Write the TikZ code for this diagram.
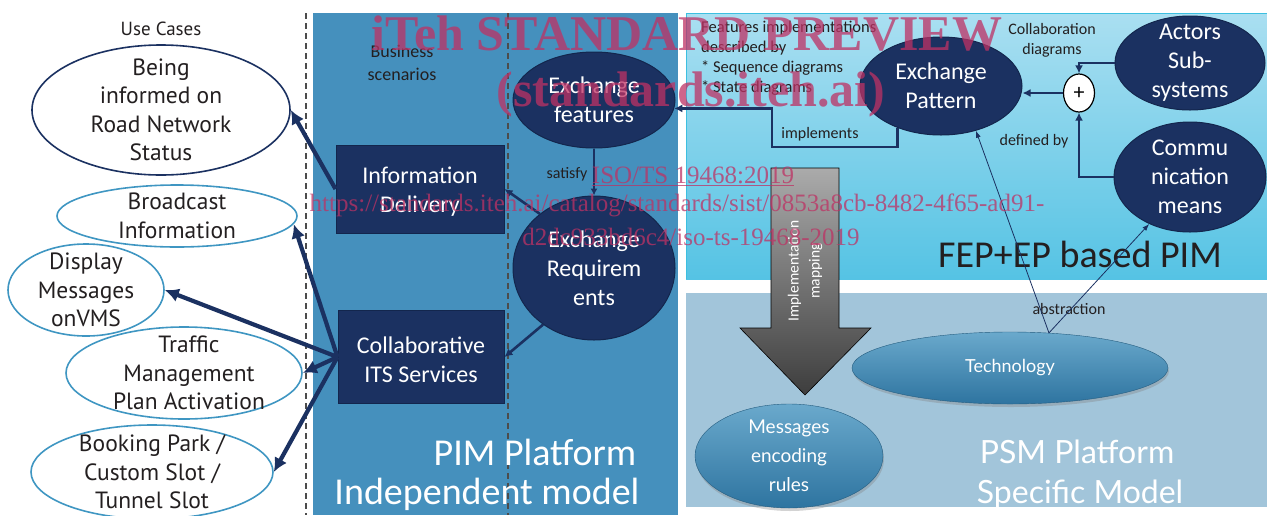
\documentclass[tikz,border=0pt]{standalone}
\usepackage{fontspec}
\setmainfont{Carlito}
\newfontfamily\myriad{PT Sans}
\newfontfamily\gill{Lato}
\newfontfamily\wmfont{Liberation Serif}
\usetikzlibrary{shapes.geometric,arrows.meta,shadows}

\definecolor{navy}{HTML}{1B3161}
\definecolor{navyline}{HTML}{13264D}
\definecolor{pimblue}{HTML}{4590BD}
\definecolor{ucblue}{HTML}{3F96C2}
\definecolor{fepTop}{HTML}{AADFF1}
\definecolor{fepBot}{HTML}{55C3E4}
\definecolor{fepEdge}{HTML}{3CBFE0}
\definecolor{psm}{HTML}{A2C5DA}
\definecolor{techTop}{HTML}{6AA9CC}
\definecolor{techBot}{HTML}{2E74A0}
\definecolor{ink}{HTML}{231F20}
\definecolor{wmcol}{RGB}{190,50,100}

\tikzset{
  uc/.style={ellipse, draw=ucblue, line width=1.6pt, inner sep=0pt},
  uctext/.style={align=center, text=ink, font=\myriad\fontsize{23.5}{28.5}\selectfont, inner sep=0pt},
  darkell/.style={ellipse, fill=navy, draw=navyline, line width=1pt, inner sep=0pt},
  darktext/.style={align=center, text=white, font=\fontsize{24}{29}\selectfont, inner sep=0pt},
  darkbox/.style={rectangle, fill=navy, draw=navyline, line width=1pt},
  note/.style={align=center, text=ink, font=\fontsize{16}{20}\selectfont, inner sep=0pt},
  fat/.style={draw=navy, line width=4.2pt, -{Latex[length=14pt,width=14pt]}},
  link/.style={draw=navy, line width=2.6pt, -{Latex[length=8pt,width=8pt]}},
  hair/.style={draw=navy, line width=0.8pt, -{Latex[length=7pt,width=5pt]}},
  sep/.style={draw=black!70, line width=1.1pt, dash pattern=on 6pt off 4pt},
  techell/.style={ellipse, inner sep=0pt, top color=techTop, bottom color=techBot,
    draw=techBot!80!black, line width=0.4pt,
    drop shadow={opacity=0.35, shadow xshift=1pt, shadow yshift=-3pt}},
  techtext/.style={align=center, text=white, font=\gill\fontsize{19}{29}\selectfont, inner sep=0pt},
  title/.style={text=white, inner sep=0pt, font=\fontsize{38}{42}\selectfont},
  wmark/.style={text=wmcol, text opacity=0.75, inner sep=0pt},
}

\begin{document}
\begin{tikzpicture}[x=1pt, y=-1pt]
\useasboundingbox (0,0) rectangle (1267,515);

% ---- panels ----
\fill[pimblue] (313,13) rectangle (678,515);
\shade[top color=fepTop, bottom color=fepBot] (686,13) rectangle (1267,279);
\draw[fepEdge, line width=0.8pt] (686,279) -- (686,13) -- (1267,13);
\fill[psm] (686,293) rectangle (1267,507);
\draw[sep] (306,13) -- (306,515);
\draw[sep] (508,13) -- (508,515);

% ---- use cases ----
\node[note, font=\myriad\fontsize{19}{22}\selectfont] (uctitle) at (161,29) {Use Cases};
\node[uc, draw=navy, minimum width=258pt, minimum height=130pt,
  label={[uctext, name=uc1t]center:Being\\informed on\\Road Network\\Status}] (uc1) at (161,110) {};
\node[uc, minimum width=240pt, minimum height=62pt,
  label={[uctext, name=uc2t]center:Broadcast\\Information}] (uc2) at (177,216) {};
\node[uc, minimum width=156pt, minimum height=92pt,
  label={[uctext, name=uc3t]center:Display\\Messages\\onVMS}] (uc3) at (86,290) {};
\node[uc, minimum width=236pt, minimum height=92pt,
  label={[uctext, name=uc4t, xshift=5pt]center:Traffic\\Management\\Plan Activation}] (uc4) at (184,373) {};
\node[uc, minimum width=242pt, minimum height=94pt,
  label={[uctext, name=uc5t]center:Booking Park /\\Custom Slot /\\Tunnel Slot}] (uc5) at (152,472) {};

% ---- platform independent model ----
\node[note, font=\fontsize{18}{23}\selectfont] (biz) at (402,63) {Business\\scenarios};
\node[darkbox, minimum width=168pt, minimum height=88pt,
  label={[darktext, name=infot, yshift=-3pt]center:Information\\Delivery}] (info) at (420,189) {};
\node[darkbox, minimum width=166pt, minimum height=93pt,
  label={[darktext, name=collabt, yshift=-2.5pt]center:Collaborative\\ITS Services}] (collab) at (421,357) {};
\node[darkell, minimum width=162pt, minimum height=96pt,
  label={[darktext, name=exfeatt]center:Exchange\\features}] (exfeat) at (594,100) {};
\node[darkell, minimum width=162pt, minimum height=144pt,
  label={[darktext, name=exreqt]center:Exchange\\Requirem\\ents}] (exreq) at (594,268) {};
\node[note] (satisfy) at (567,174) {satisfy};
\node[title] (pim1) at (535,452) {PIM Platform};
\node[title] (pim2) at (487,494) {Independent model};

% ---- FEP + EP based PIM ----
\node[note, align=left, anchor=west, font=\fontsize{16.5}{20}\selectfont] (featdesc) at (701,58)
  {Features implementations\\described by\\* Sequence diagrams\\* State diagrams};
\node[darkell, minimum width=162pt, minimum height=98pt,
  label={[darktext, name=ept]center:Exchange\\Pattern}] (ep) at (941,86) {};
\node[ellipse, draw=black, fill=white, line width=1.2pt, inner sep=0pt,
  minimum width=31pt, minimum height=38pt, font=\fontsize{22}{22}\selectfont] (plus) at (1079,93) {+};
\node[darkell, minimum width=150pt, minimum height=94pt,
  label={[darktext, name=actorst]center:Actors\\Sub-\\systems}] (actors) at (1190,63) {};
\node[darkell, minimum width=152pt, minimum height=110pt,
  label={[darktext, name=commt]center:Commu\\nication\\means}] (comm) at (1190,177) {};
\node[note] (collabdiag) at (1052,40) {Collaboration\\diagrams};
\node[note] (definedby) at (1034,141) {defined by};
\node[note] (impl) at (820,134) {implements};
\node[text=ink, inner sep=0pt, font=\fontsize{38}{40}\selectfont] (fep) at (1080,254) {FEP+EP based PIM};
\coordinate (implc) at (772,147);

% ---- implementation mapping arrow ----
\shade[top color=black!33, bottom color=black!76, draw=black, line width=0.6pt]
  (771,168) -- (839,168) -- (839,328) -- (871,328) -- (805,395) -- (740,328) -- (771,328) -- cycle;
\node[rotate=90, align=center, text=white, inner sep=0pt,
  font=\fontsize{15.5}{21}\selectfont] (mapping) at (805,271) {Implementation\\mapping};

% ---- platform specific model ----
\node[techell, minimum width=316pt, minimum height=72pt,
  label={[techtext, name=techt, font=\gill\fontsize{18}{22}\selectfont]center:Technology}] (tech) at (1010,368) {};
\node[techell, minimum width=188pt, minimum height=104pt,
  label={[techtext, name=msgt]center:Messages\\encoding\\rules}] (msg) at (789,456) {};
\node[note] (abstr) at (1069,309) {abstraction};
\node[title, font=\gill\fontsize{32}{36}\selectfont] (psm1) at (1077,452) {PSM Platform};
\node[title, font=\gill\fontsize{32}{36}\selectfont] (psm2) at (1080,494) {Specific Model};

% ---- connectors ----
\draw[fat] (info.west) -- (uc1.east);
\draw[fat] (collab.west) -- (uc2.-4);
\draw[fat] (collab.west) -- (uc3.east);
\draw[fat] (collab.west) -- (uc4.east);
\draw[fat] (collab.west) -- (uc5.east);
\draw[link] (exreq.135) -- (info.east);
\draw[link] (exreq.228) -- (collab.east);
\draw[draw=navy, line width=2pt, -{Latex[length=7pt,width=7pt]}] (exfeat.south) -- (exreq.north);
\draw[link] (ep.224) |- (implc) |- (exfeat.-6);
\draw[link] (plus.west) -- (ep.east |- plus.west);
\draw[link] (actors.west) -| (plus.north);
\draw[link] (comm.west) -| (plus.south);
\draw[hair] (tech.42) -- (ep.-52);
\draw[hair] (tech.42) -- (comm.229);

% ---- preview stamp ----
\node[wmark, font=\wmfont\bfseries\fontsize{50}{50}\selectfont] (wm1) at (687,34) {iTeh STANDARD PREVIEW};
\node[wmark, font=\wmfont\bfseries\fontsize{50}{50}\selectfont] (wm2) at (691,94) {(standards.iteh.ai)};
\node[wmark, font=\wmfont\fontsize{25}{25}\selectfont] (wm3) at (693,176) {\underline{ISO/TS 19468:2019}};
\node[wmark, font=\wmfont\fontsize{25}{25}\selectfont] (wm4) at (677,205)
  {https://standards.iteh.ai/catalog/standards/sist/0853a8cb-8482-4f65-ad91-};
\node[wmark, font=\wmfont\fontsize{25}{25}\selectfont] (wm5) at (691,237) {d2dc933bd6c4/iso-ts-19468-2019};
\end{tikzpicture}
\end{document}
